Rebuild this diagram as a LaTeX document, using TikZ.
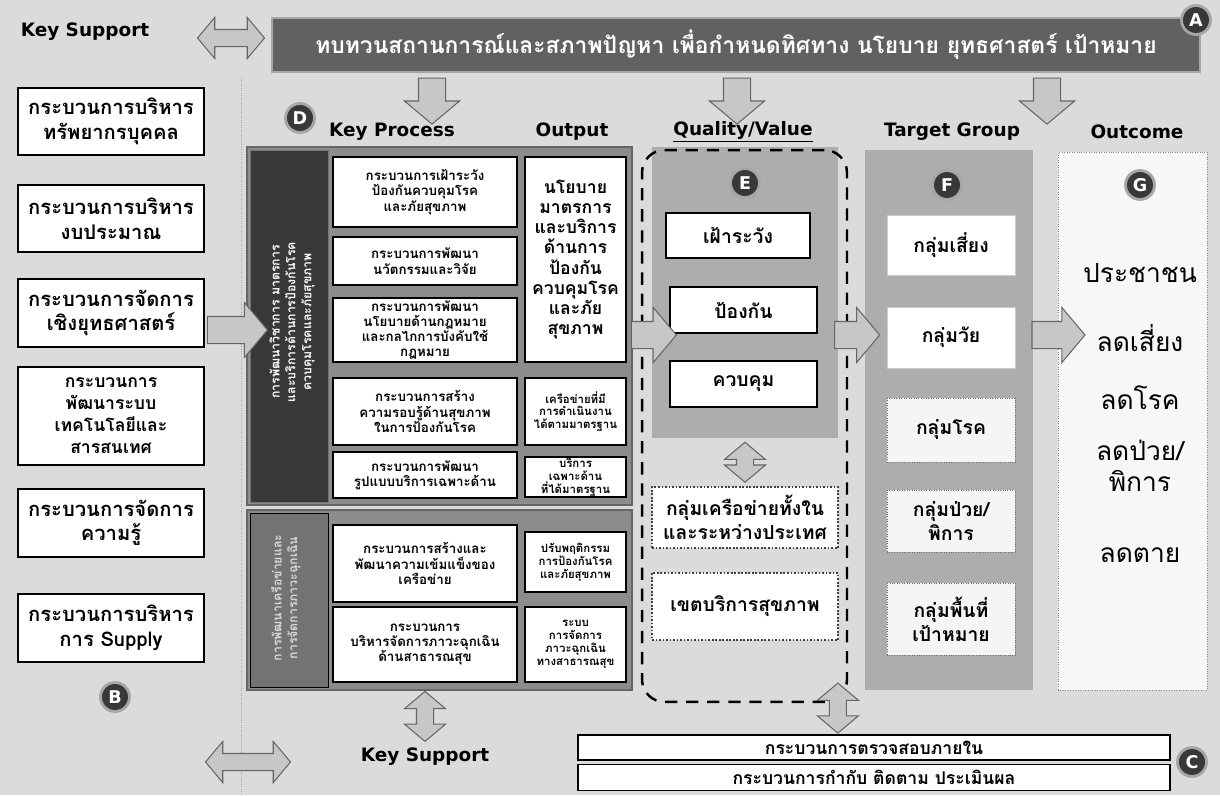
\documentclass[tikz,border=0pt]{standalone}
\usepackage{fontspec}
\setmainfont{DejaVu Sans}
\newfontfamily\thai[Script=Thai]{Loma}
\usetikzlibrary{shapes.arrows,positioning,calc}

\tikzset{
  sbox/.style={draw=black,line width=1.1pt,fill=white,align=center,minimum width=3.72cm,font=\thai\bfseries\fontsize{11.5}{14}\selectfont},
  kbox/.style={draw=black,line width=1.3pt,fill=white,align=center,minimum width=3.68cm,inner sep=1pt,font=\thai\bfseries\fontsize{7.6}{8.7}\selectfont},
  obox/.style={draw=black,line width=1.3pt,fill=white,align=center,minimum width=2.02cm,inner sep=0.5pt,font=\thai\bfseries\fontsize{6.5}{7.3}\selectfont},
  qbox/.style={draw=black,line width=1pt,fill=white,align=center,font=\thai\bfseries\fontsize{11}{13.5}\selectfont},
  netbox/.style={qbox,draw=black!75,densely dotted,minimum width=3.72cm},
  tbox/.style={fill=white,draw=black!20,align=center,minimum width=2.56cm,font=\thai\bfseries\fontsize{11}{13.5}\selectfont},
  tdot/.style={tbox,fill=black!4,draw=black!55,densely dotted},
  gtext/.style={align=center,font=\thai\fontsize{15}{18}\selectfont},
  head/.style={font=\bfseries\fontsize{10.5}{12}\selectfont},
  tag/.style={circle,fill=black!78,draw=black!35,line width=1.6pt,text=white,inner sep=0pt,minimum size=0.58cm,font=\bfseries\fontsize{10}{10}\selectfont},
  fatarr/.style={single arrow,draw=black!60,fill=black!22,line width=0.6pt,inner xsep=0pt,inner ysep=0.26cm,single arrow head extend=0.28cm,single arrow tip angle=100},
  fatboth/.style={double arrow,draw=black!60,fill=black!22,line width=0.6pt,inner xsep=0pt,inner ysep=0.16cm,double arrow head extend=0.24cm,double arrow tip angle=100},
  stripe/.style={rotate=90,align=center,text=white,font=\thai\bfseries\fontsize{7}{9}\selectfont}
}

\begin{document}
\begin{tikzpicture}[x=0.02cm,y=-0.02cm]
% background
\fill[black!14] (0,0) rectangle (1220,795);
\draw[black!35,densely dotted] (241,78) -- (241,795);

% goal banner
\node[fill=black!62,draw=black!35,line width=1pt,text=white,minimum width=18.56cm,minimum height=1.08cm,font=\thai\bfseries\fontsize{13}{15}\selectfont] (goal) at (736,45) {ทบทวนสถานการณ์และสภาพปัญหา เพื่อกำหนดทิศทาง นโยบาย ยุทธศาสตร์ เป้าหมาย};
\node[tag] (tA) at (1196,20) {A};
\node[head] (ksup) at (85,32) {Key Support};
\node[fatboth,minimum height=1.34cm] (lnk0) at (231,38) {};

% key support column
\node[sbox,minimum height=1.34cm] (s1) at (111,121.5) {กระบวนการบริหาร\\ทรัพยากรบุคคล};
\node[sbox,minimum height=1.34cm] (s2) at (111,218.5) {กระบวนการบริหาร\\งบประมาณ};
\node[sbox,minimum height=1.36cm] (s3) at (111,313) {กระบวนการจัดการ\\เชิงยุทธศาสตร์};
\node[sbox,minimum height=1.96cm,font=\thai\bfseries\fontsize{10}{12.5}\selectfont] (s4) at (111,416) {กระบวนการ\\พัฒนาระบบ\\เทคโนโลยีและ\\สารสนเทศ};
\node[sbox,minimum height=1.36cm] (s5) at (111,523) {กระบวนการจัดการ\\ความรู้};
\node[sbox,minimum height=1.36cm] (s6) at (111,628) {กระบวนการบริหาร\\การ Supply};
\node[tag] (tB) at (115,697) {B};

% column heads
\node[tag] (tD) at (300,118) {D};
\node[head] (hkp) at (392,132) {Key Process};
\node[head] (hout) at (572,132) {Output};
\node[head] (hq) at (743,132) {\underline{Quality/Value}};
\node[head] (ht) at (952,132) {Target Group};
\node[head] (hg) at (1137,132) {Outcome};

% key process, upper group
\node[fill=black!45,draw=black!60,line width=1pt,minimum width=7.7cm,minimum height=7.16cm] (kpu) at (439.5,326) {};
\node[fill=black!78,draw=black!55,minimum width=1.56cm,minimum height=7.04cm] (stu) at (289,326) {};
\node[stripe] (stut) at (292,322) {การพัฒนาวิชาการ มาตรการ\\และบริการด้านการป้องกันโรค\\ควบคุมโรคและภัยสุขภาพ};
\node[kbox,minimum height=1.4cm] (k1) at (425,192) {กระบวนการเฝ้าระวัง\\ป้องกันควบคุมโรค\\และภัยสุขภาพ};
\node[kbox,minimum height=0.96cm] (k2) at (425,261) {กระบวนการพัฒนา\\นวัตกรรมและวิจัย};
\node[kbox,minimum height=1.28cm] (k3) at (425,330) {กระบวนการพัฒนา\\นโยบายด้านกฎหมาย\\และกลไกการบังคับใช้\\กฎหมาย};
\node[kbox,minimum height=1.34cm] (k4) at (425,411.5) {กระบวนการสร้าง\\ความรอบรู้ด้านสุขภาพ\\ในการป้องกันโรค};
\node[kbox,minimum height=0.92cm] (k5) at (425,475) {กระบวนการพัฒนา\\รูปแบบบริการเฉพาะด้าน};
\node[obox,minimum height=4.1cm,font=\thai\bfseries\fontsize{10}{11.5}\selectfont] (o1) at (575.5,259.5) {นโยบาย\\มาตรการ\\และบริการ\\ด้านการ\\ป้องกัน\\ควบคุมโรค\\และภัย\\สุขภาพ};
\node[obox,minimum height=1.34cm] (o2) at (575.5,411.5) {เครือข่ายที่มี\\การดำเนินงาน\\ได้ตามมาตรฐาน};
\node[obox,minimum height=0.8cm] (o3) at (575.5,477) {บริการ\\เฉพาะด้าน\\ที่ได้มาตรฐาน};

% key process, lower group
\node[fill=black!45,draw=black!60,line width=1pt,minimum width=7.7cm,minimum height=3.6cm] (kpl) at (439.5,600) {};
\node[fill=black!55,draw=black,minimum width=1.56cm,minimum height=3.48cm] (stl) at (289,600) {};
\node[stripe,text=black!15] (stlt) at (286,598) {การพัฒนาเครือข่ายและ\\การจัดการภาวะฉุกเฉิน};
\node[kbox,minimum height=1.54cm] (k6) at (425,563.5) {กระบวนการสร้างและ\\พัฒนาความเข้มแข็งของ\\เครือข่าย};
\node[kbox,minimum height=1.5cm] (k7) at (425,644.5) {กระบวนการ\\บริหารจัดการภาวะฉุกเฉิน\\ด้านสาธารณสุข};
\node[obox,minimum height=1.2cm] (o4) at (575.5,562) {ปรับพฤติกรรม\\การป้องกันโรค\\และภัยสุขภาพ};
\node[obox,minimum height=1.5cm] (o5) at (575.5,644.5) {ระบบ\\การจัดการ\\ภาวะฉุกเฉิน\\ทางสาธารณสุข};

% quality / value
\node[fill=black!32,minimum width=3.72cm,minimum height=5.82cm] (qp) at (745,292.5) {};
\node[tag] (tE) at (745,183) {E};
\node[qbox,minimum width=2.88cm,minimum height=0.9cm] (q1) at (738,235.5) {เฝ้าระวัง};
\node[qbox,minimum width=2.94cm,minimum height=0.92cm] (q2) at (743.5,310) {ป้องกัน};
\node[qbox,minimum width=2.94cm,minimum height=0.92cm] (q3) at (743.5,384) {ควบคุม};
\node[netbox,minimum height=1.22cm] (q4) at (745,517.5) {กลุ่มเครือข่ายทั้งใน\\และระหว่างประเทศ};
\node[netbox,minimum height=1.34cm] (q5) at (745,606.5) {เขตบริการสุขภาพ};
\node[draw=black,line width=1.4pt,dash pattern=on 7pt off 5pt,rounded corners=0.45cm,minimum width=4.1cm,minimum height=11.04cm] (qfr) at (744.5,426) {};
\path (qp.south) -- (q4.north) node[midway,fatboth,rotate=90,minimum height=0.8cm] (lnk2) {};

% target group
\node[fill=black!32,minimum width=3.36cm,minimum height=10.8cm] (tp) at (949,420) {};
\node[tag] (tF) at (947,185) {F};
\node[tbox,minimum height=1.2cm] (t1) at (951,245) {กลุ่มเสี่ยง};
\node[tbox,minimum height=1.22cm] (t2) at (951,337.5) {กลุ่มวัย};
\node[tdot,minimum height=1.28cm] (t3) at (951,430) {กลุ่มโรค};
\node[tdot,minimum height=1.24cm] (t4) at (951,521) {กลุ่มป่วย/\\พิการ};
\node[tdot,minimum height=1.44cm] (t5) at (951,619) {กลุ่มพื้นที่\\เป้าหมาย};

% outcome
\node[fill=black!3,draw=black!45,densely dotted,minimum width=2.98cm,minimum height=10.76cm] (gp) at (1132.5,421) {};
\node[tag] (tG) at (1140,185) {G};
\node[gtext] (g1) at (1140,273) {ประชาชน};
\node[gtext] (g2) at (1140,338) {ลดเสี่ยง};
\node[gtext] (g3) at (1140,398) {ลดโรค};
\node[gtext] (g4) at (1140,466) {ลดป่วย/\\พิการ};
\node[gtext] (g5) at (1140,555) {ลดตาย};

% flow arrows
\coordinate (lvl) at (0,330);
\coordinate (mid) at (0,335);
\coordinate (d1) at (432,118);
\coordinate (d2) at (737,118);
\coordinate (d3) at (1047,118);
\path (goal.south -| d1) -- (d1) node[midway,fatarr,rotate=-90,minimum height=0.92cm] (dn1) {};
\path (goal.south -| d2) -- (d2) node[midway,fatarr,rotate=-90,minimum height=0.92cm] (dn2) {};
\path (goal.south -| d3) -- (d3) node[midway,fatarr,rotate=-90,minimum height=0.92cm] (dn3) {};
\path (s3.east |- lvl) -- (stu.west |- lvl) node[pos=0.6,fatarr,minimum height=1.2cm] (ar1) {};
\path (o1.east |- mid) -- (q2.west |- mid) node[midway,fatarr,minimum height=0.9cm] (ar2) {};
\path (qp.east |- mid) -- (tp.west |- mid) node[midway,fatarr,minimum height=0.9cm] (ar3) {};
\path (tp.east |- mid) -- (gp.west |- mid) node[pos=0.8,fatarr,minimum height=1.06cm] (ar4) {};

% bottom support
\node[head] (ksub) at (425,757) {Key Support};
\path (kpl.south -| ksub) -- (ksub.north) node[midway,fatboth,rotate=90,minimum height=1.0cm] (lnk3) {};
\node[fatboth,minimum height=1.7cm] (lnk4) at (248,762) {};
\node[draw=black,line width=0.8pt,fill=white,minimum width=11.84cm,minimum height=0.5cm,font=\thai\bfseries\fontsize{10}{12}\selectfont] (c1) at (874,747.5) {กระบวนการตรวจสอบภายใน};
\node[draw=black,line width=0.8pt,fill=white,minimum width=11.84cm,minimum height=0.5cm,font=\thai\bfseries\fontsize{10}{12}\selectfont] (c2) at (874,777.5) {กระบวนการกำกับ ติดตาม ประเมินผล};
\node[tag] (tC) at (1192,762) {C};
\path (q5.south) -- (c1.north) node[pos=0.72,fatboth,rotate=90,minimum height=1.0cm] (lnk5) {};
\end{tikzpicture}
\end{document}
